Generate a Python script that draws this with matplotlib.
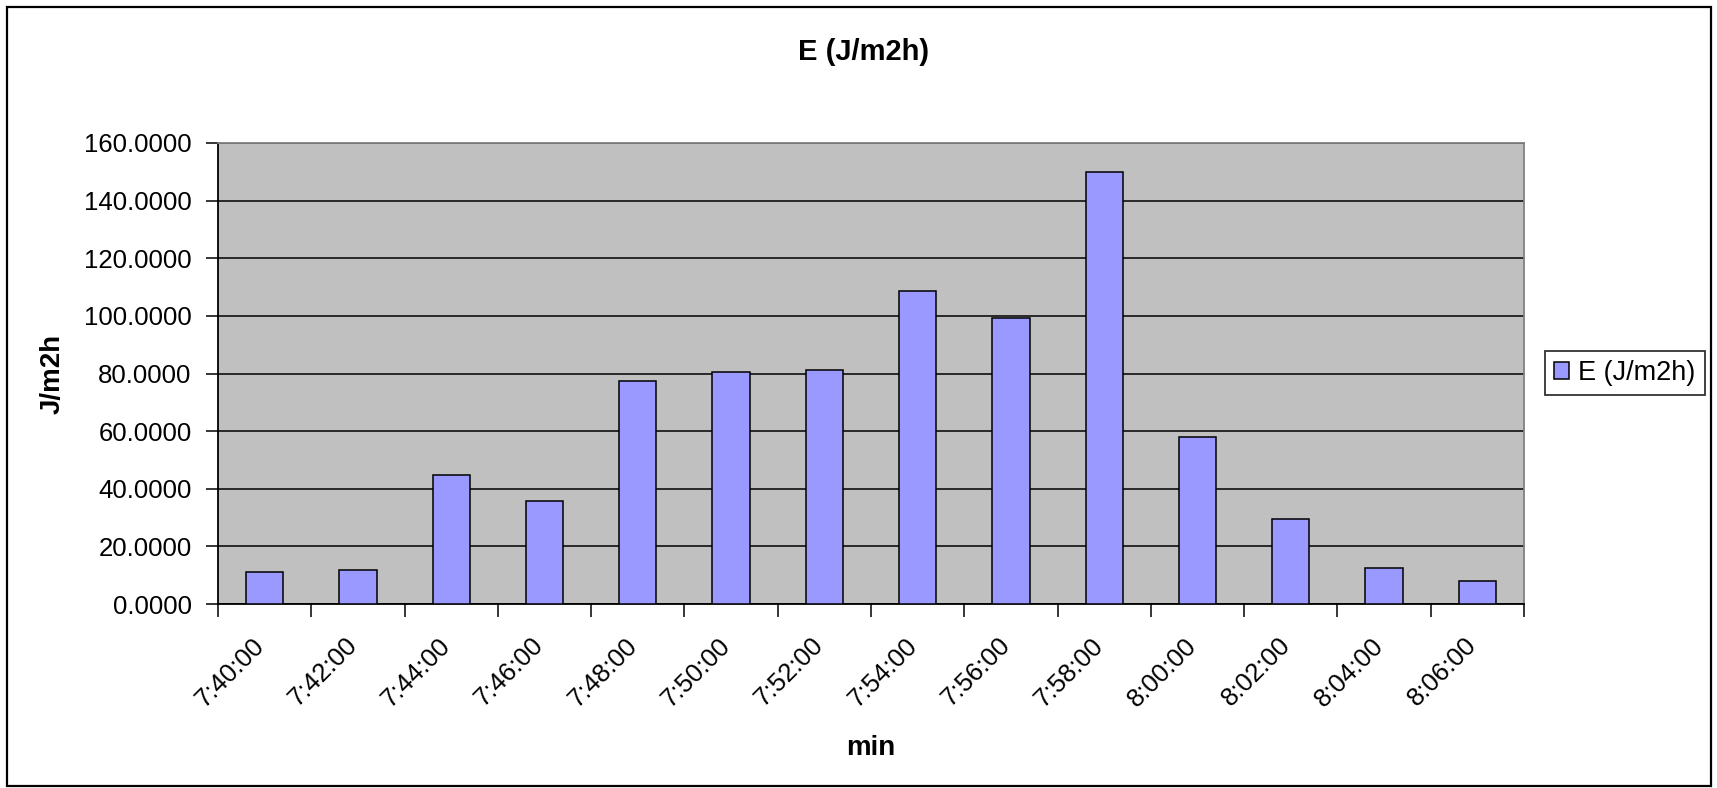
import matplotlib
matplotlib.use("Agg")
import matplotlib.pyplot as plt
from matplotlib.patches import Rectangle
from matplotlib.transforms import ScaledTranslation

categories = ["7:40:00", "7:42:00", "7:44:00", "7:46:00", "7:48:00", "7:50:00", "7:52:00",
              "7:54:00", "7:56:00", "7:58:00", "8:00:00", "8:02:00", "8:04:00", "8:06:00"]
values = [11.0, 11.7, 44.6, 35.9, 77.5, 80.5, 81.3, 108.8, 99.3, 149.9, 57.8, 29.4, 12.6, 8.1]
yticks = [0, 20, 40, 60, 80, 100, 120, 140, 160]
series_name = "E (J/m2h)"

plt.rcParams['font.family'] = ['Liberation Sans', 'DejaVu Sans']

W, H = 1717, 788
fig = plt.figure(figsize=(W / 100, H / 100), dpi=100)
fig.patches.append(Rectangle((7 / W, 2 / H), (1711 - 7) / W, (781 - 2) / H, transform=fig.transFigure,
                             fill=False, edgecolor='black', linewidth=1.6))

L, R, T, B = 218, 1524, 143, 604
ax = fig.add_axes([L / W, 1 - B / H, (R - L) / W, (B - T) / H])
ax.set_facecolor('#C0C0C0')
x = list(range(len(categories)))
ax.bar(x, values, width=0.4, color='#9999FF', edgecolor='black', linewidth=1.1,
       label=series_name, zorder=3)
ax.set_xlim(-0.5, len(categories) - 0.5)
ax.set_ylim(0, 160)
ax.set_yticks(yticks)
ax.set_yticklabels([f"{v:.4f}" for v in yticks], fontsize=18.5)
ax.yaxis.grid(True, color='black', linewidth=1.1, zorder=1)
ax.set_axisbelow(True)

ax.set_xticks(x)
ax.set_xticklabels(categories, rotation=45, ha='right', va='top', rotation_mode='anchor', fontsize=18.5)
ax.tick_params(axis='x', which='major', length=0, pad=21)
off = ScaledTranslation(-13 / 100, 0, fig.dpi_scale_trans)
for lbl in ax.get_xticklabels():
    lbl.set_transform(lbl.get_transform() + off)
ax.set_xticks([i - 0.5 for i in range(len(categories) + 1)], minor=True)
ax.tick_params(axis='x', which='minor', length=9, width=1.1, direction='out')
ax.tick_params(axis='y', length=9, width=1.1, direction='out', pad=10)

for side in ['left', 'bottom']:
    ax.spines[side].set_color('black')
    ax.spines[side].set_linewidth(1.3)
for side in ['top', 'right']:
    ax.spines[side].set_color('#808080')
    ax.spines[side].set_linewidth(1.3)

ax.set_xlabel("min", fontsize=20, fontweight='bold')
ax.xaxis.set_label_coords(0.5, (B - 748) / (B - T))
ax.xaxis.label.set_va('center')
ax.set_ylabel("J/m2h", fontsize=20, fontweight='bold')
ax.yaxis.set_label_coords((53 - L) / (R - L), 0.5)
ax.yaxis.label.set_va('center')
fig.text(864 / W, 1 - 52 / H, "E (J/m2h)", fontsize=21, fontweight='bold', ha='center', va='center')

leg = fig.legend(loc='center', bbox_to_anchor=(1625 / W, 1 - 373 / H), fontsize=19.5,
                 frameon=True, fancybox=False, shadow=False, handlelength=0.55, handleheight=0.55,
                 handletextpad=0.33, borderpad=0.35, borderaxespad=0)
leg.get_frame().set_edgecolor('black')
leg.get_frame().set_linewidth(1.3)
for p in leg.get_patches():
    p.set_linewidth(1.1)

fig.savefig("out.png", dpi=100)
